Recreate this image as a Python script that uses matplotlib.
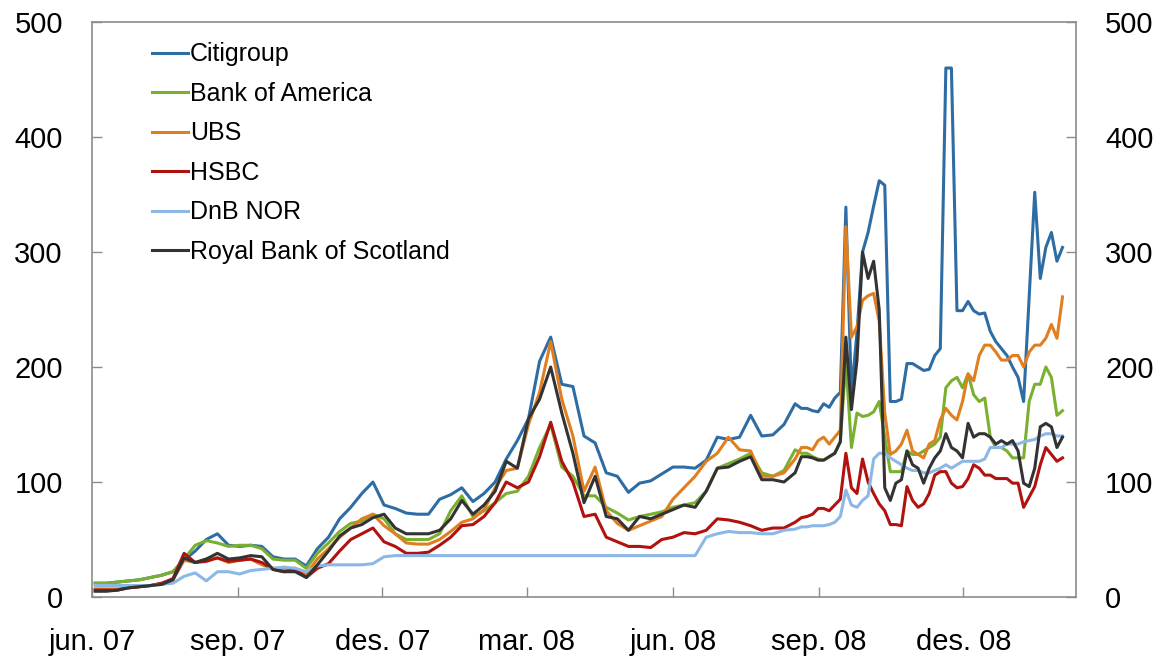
import matplotlib
matplotlib.use("Agg")
import matplotlib.pyplot as plt
import pandas as pd

plt.rcParams['font.family'] = ['Liberation Sans', 'DejaVu Sans']

# Datoer: ukentlig fram til midten av august 2008, deretter to ganger i uka
datoer = pd.date_range('2007-06-03', periods=64, freq='7D').append(
    pd.date_range('2008-08-21', periods=48, freq='84h'))

citigroup = [12, 12, 13, 14, 15, 17, 19, 22, 32, 40, 50, 55, 45, 44, 45, 44, 35, 33,
             33, 27, 42, 52, 68, 78, 90, 100, 80, 77, 73, 72, 72, 85, 89, 95, 83, 90,
             100, 120, 136, 155, 205, 226, 185, 183, 140, 134, 108, 105, 91, 99, 101, 107, 113,
             113, 112, 119, 139, 137, 139, 158, 140, 141, 150, 168,
             164, 164, 162, 161, 168, 165, 173, 178, 339, 177, 230, 300, 317, 340, 362, 358,
             170, 170, 172, 203, 203, 200, 197, 198, 210, 216, 460, 460, 249, 249, 257, 249,
             246, 247, 231, 222, 216, 210, 200, 191, 170, 261, 352, 277, 304, 317, 292, 304]

bank_of_america = [12, 12, 13, 14, 15, 17, 19, 22, 33, 45, 49, 47, 44, 45, 45, 42, 33, 32,
                   32, 25, 38, 47, 57, 64, 66, 72, 68, 55, 50, 50, 50, 55, 75, 88, 70, 75,
                   82, 90, 92, 105, 130, 150, 113, 105, 88, 88, 78, 73, 67, 70, 72, 74, 78,
                   80, 82, 92, 112, 116, 120, 125, 108, 105, 110, 128,
                   125, 125, 122, 120, 119, 122, 125, 135, 205, 130, 160, 157, 158, 161, 170, 139,
                   109, 109, 109, 127, 124, 124, 127, 130, 133, 139, 182, 188, 191, 182, 194, 176,
                   170, 173, 139, 130, 130, 127, 121, 121, 121, 170, 185, 185, 200, 191, 158, 162]

ubs = [7, 7, 7, 8, 9, 10, 12, 15, 32, 30, 33, 34, 30, 32, 33, 28, 25, 24,
       25, 20, 33, 42, 52, 60, 68, 72, 62, 55, 47, 46, 46, 50, 57, 65, 68, 76,
       95, 110, 112, 150, 178, 222, 172, 140, 92, 113, 75, 64, 58, 62, 66, 70, 85,
       95, 105, 118, 125, 139, 128, 127, 105, 105, 108, 120,
       130, 130, 128, 136, 139, 133, 139, 145, 322, 226, 235, 258, 262, 264, 240, 160,
       124, 127, 133, 145, 127, 124, 121, 133, 136, 154, 164, 158, 154, 170, 194, 188,
       210, 219, 219, 213, 206, 206, 210, 210, 200, 213, 219, 219, 225, 237, 225, 261]

hsbc = [6, 6, 6, 8, 9, 10, 12, 16, 38, 30, 31, 34, 31, 32, 33, 30, 24, 22,
        24, 17, 25, 29, 40, 50, 55, 60, 48, 44, 38, 38, 39, 45, 52, 62, 63, 70,
        82, 100, 95, 100, 122, 152, 118, 100, 70, 72, 52, 48, 44, 44, 43, 50, 52,
        56, 55, 58, 68, 67, 65, 62, 58, 60, 60, 65,
        69, 70, 72, 77, 77, 75, 80, 85, 125, 95, 90, 120, 100, 90, 81, 75,
        63, 63, 62, 96, 84, 78, 81, 90, 106, 109, 109, 99, 95, 96, 103, 115,
        112, 106, 106, 103, 103, 103, 99, 99, 78, 87, 96, 115, 130, 124, 118, 121]

dnb_nor = [10, 10, 10, 10, 10, 10, 11, 12, 18, 21, 14, 22, 22, 20, 23, 24, 25, 26,
           25, 22, 27, 28, 28, 28, 28, 29, 35, 36, 36, 36, 36, 36, 36, 36, 36, 36,
           36, 36, 36, 36, 36, 36, 36, 36, 36, 36, 36, 36, 36, 36, 36, 36, 36,
           36, 36, 52, 55, 57, 56, 56, 55, 55, 58, 59,
           61, 61, 62, 62, 62, 63, 65, 70, 93, 80, 78, 84, 88, 120, 125, 125,
           121, 118, 115, 112, 110, 110, 108, 108, 110, 112, 115, 112, 115, 118, 118, 118,
           118, 120, 130, 130, 130, 133, 133, 133, 135, 136, 137, 140, 142, 142, 140, 140]

rbs = [5, 5, 6, 8, 9, 10, 11, 15, 34, 30, 33, 38, 33, 34, 36, 35, 24, 22,
       22, 17, 28, 40, 53, 60, 63, 69, 72, 60, 55, 55, 55, 58, 68, 84, 72, 80,
       92, 118, 112, 155, 172, 200, 160, 125, 82, 105, 70, 68, 58, 70, 68, 72, 76,
       80, 78, 92, 112, 113, 118, 122, 102, 102, 100, 108,
       122, 122, 121, 119, 119, 122, 125, 135, 226, 163, 206, 300, 277, 292, 250, 95,
       84, 99, 102, 127, 115, 112, 99, 112, 121, 127, 142, 130, 127, 121, 151, 139,
       142, 142, 139, 133, 136, 133, 136, 127, 99, 96, 112, 148, 151, 148, 130, 139]

serier = [('Citigroup', citigroup, '#2E6CA4'),
          ('Bank of America', bank_of_america, '#7AB030'),
          ('UBS', ubs, '#E07F1F'),
          ('HSBC', hsbc, '#B0120F'),
          ('DnB NOR', dnb_nor, '#8DB8E6'),
          ('Royal Bank of Scotland', rbs, '#333333')]

tick_datoer = pd.to_datetime(['2007-06-01', '2007-09-01', '2007-12-01', '2008-03-01',
                              '2008-06-01', '2008-09-01', '2008-12-01'])
tick_tekst = ['jun. 07', 'sep. 07', 'des. 07', 'mar. 08', 'jun. 08', 'sep. 08', 'des. 08']

fig = plt.figure(figsize=(11.65, 6.61), dpi=100)
ax = fig.add_axes([0.079, 0.0968, 0.8446, 0.8699])

for navn, verdier, farge in serier:
    ax.plot(datoer, verdier, color=farge, lw=2.2, label=navn)

ax.set_xlim(pd.Timestamp('2007-06-01'), pd.Timestamp('2009-02-10'))
ax.set_ylim(0, 500)
ax.set_yticks(range(0, 501, 100))
ax.set_xticks(tick_datoer)
ax.set_xticklabels(tick_tekst)

for s in ax.spines.values():
    s.set_color('#8C8C8C')
    s.set_linewidth(1.2)

ax.tick_params(axis='y', direction='in', length=7, width=1, color='#8C8C8C',
               labelsize=21, pad=21, right=True, labelright=True)
ax.tick_params(axis='x', direction='in', length=7, width=1, color='#8C8C8C',
               labelsize=21, pad=22)

# Legenden uten ramme, øverst til venstre
leg = ax.legend(loc='upper left', bbox_to_anchor=(0.051, 0.982), frameon=False,
                fontsize=18, handlelength=1.44, handletextpad=0.08,
                labelspacing=0.62, borderaxespad=0)

fig.savefig('out.png', dpi=100)
